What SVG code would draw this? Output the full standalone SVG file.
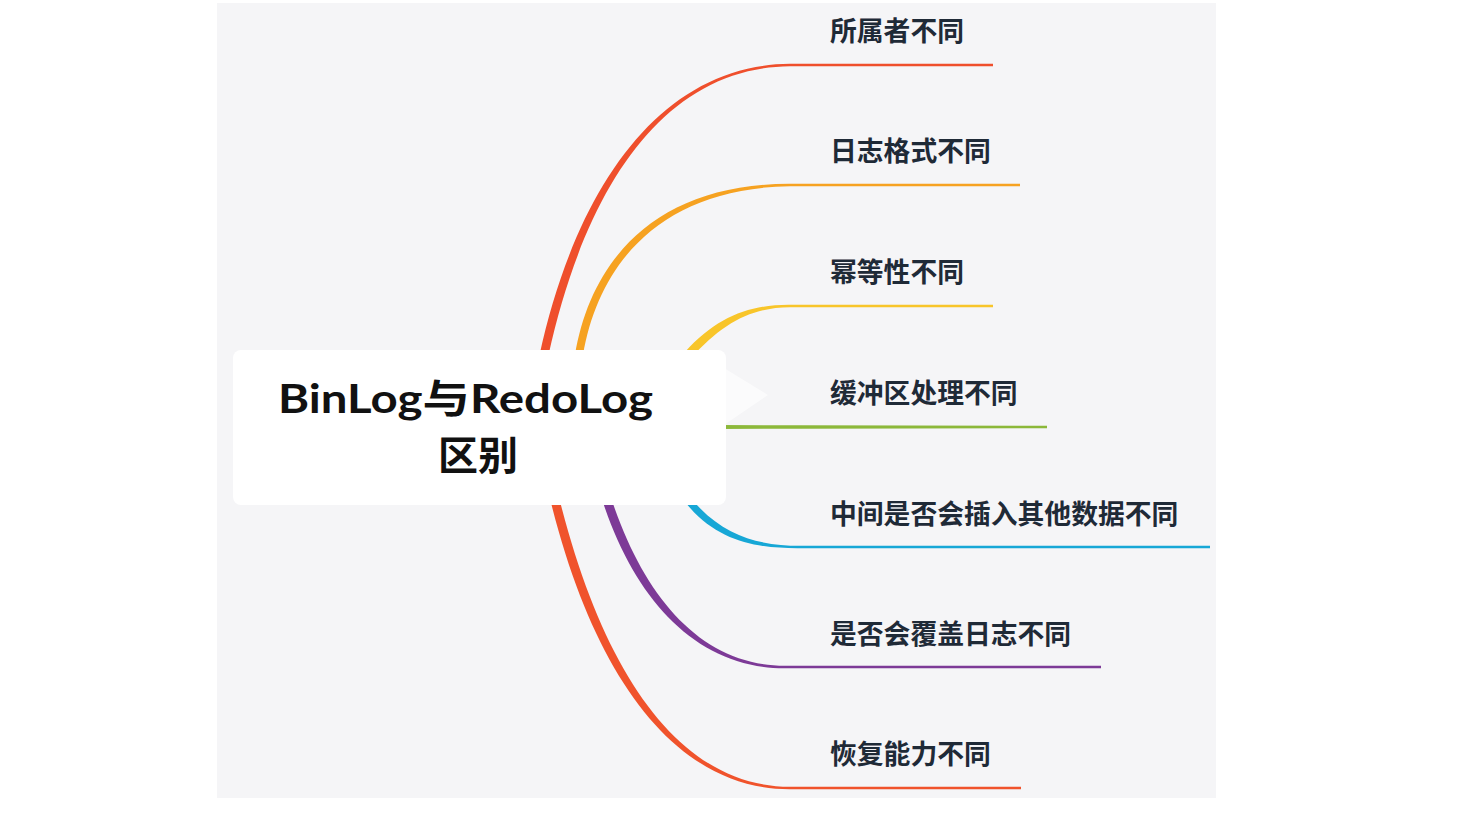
<svg xmlns="http://www.w3.org/2000/svg" width="1466" height="823" viewBox="0 0 1466 823">
<style>
.lbl{font-family:"Noto Sans CJK SC","Noto Sans",sans-serif;font-size:26.8px;font-weight:700;fill:#1f2a37}
.title{font-family:Lato,"Noto Sans CJK SC",sans-serif;font-weight:700;font-size:40px;fill:#111111}
.titlecjk{font-family:"Noto Sans CJK SC",sans-serif;font-weight:700;font-size:40px;fill:#111111}
</style>
<rect x="0" y="0" width="1466" height="823" fill="#ffffff"/>
<rect x="217" y="3" width="999" height="795" fill="#f5f5f7"/>
<g id="connectors">
<path d="M539.5 355 C575.5 190 659 64.5 790 63.8 L993 63.8 L993 66.2 L790 66.2 C661 67.5 584.5 192 548.5 355 Z" fill="#ef4f2c"/>
<path d="M575 355 C591 258 658 183.5 790 183.8 L1020 183.8 L1020 186.2 L790 186.2 C662 188 599 262 583 355 Z" fill="#f6a221"/>
<path d="M685 352 C717 317 749 304.5 790 304.8 L993 304.8 L993 307.2 L790 307.2 C751 307.5 723 323 691 358 Z" fill="#f8c52a"/>
<path d="M720 425 L800 425.3 L1047 425.8 L1047 428.2 L800 428.7 L720 429 Z" fill="#8cb83a"/>
<path d="M690.7 497.8 C723 537.5 761 545.6 800 545.8 L1210 545.8 L1210 548.2 L800 548.2 C759 548.5 717 542.5 685.3 502.2 Z" fill="#17a7d6"/>
<path d="M611.3 498.6 C644.5 598.6 702 665.6 785 665.8 L1101 665.8 L1101 668.2 L785 668.2 C698 668.5 635.5 601.4 602.7 501.4 Z" fill="#7d3a97"/>
<path d="M559.4 498.9 C604.5 678.5 682 786.6 790 786.8 L1021 786.8 L1021 789.2 L790 789.2 C678 789.5 595.5 681.5 550.6 501.1 Z" fill="#f0532c"/>
</g>
<g id="root">
<polygon points="724,368 768,395 724,425" fill="#ffffff" opacity="0.6"/>
<rect x="233" y="350" width="493" height="155" rx="8" fill="#ffffff"/>
<text class="title" x="278" y="413" textLength="375" lengthAdjust="spacingAndGlyphs">BinLog<tspan class="titlecjk">与</tspan>RedoLog</text>
<text class="titlecjk" x="478" y="470" text-anchor="middle">区别</text>
</g>
<g id="n1"><text class="lbl" x="830" y="41">所属者不同</text></g>
<g id="n2"><text class="lbl" x="830" y="161">日志格式不同</text></g>
<g id="n3"><text class="lbl" x="830" y="282">幂等性不同</text></g>
<g id="n4"><text class="lbl" x="830" y="403">缓冲区处理不同</text></g>
<g id="n5"><text class="lbl" x="830" y="524">中间是否会插入其他数据不同</text></g>
<g id="n6"><text class="lbl" x="830" y="644">是否会覆盖日志不同</text></g>
<g id="n7"><text class="lbl" x="830" y="764">恢复能力不同</text></g>
</svg>
